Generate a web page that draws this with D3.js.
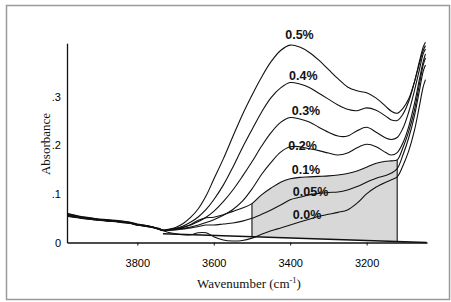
<!DOCTYPE html>
<html>
<head>
<meta charset="utf-8">
<script src="https://cdn.jsdelivr.net/npm/d3@7"></script>
<style>
  body { margin: 0; background: #fff; }
  svg { display: block; }
</style>
</head>
<body>
<div id="chart"></div>
<script>
// wavenumber grid (cm-1) shared by all spectra
const wavenumbers = [3984, 3950, 3915, 3880, 3850, 3820, 3800, 3776, 3755, 3740, 3733,
  3720, 3700, 3680, 3660, 3640, 3620, 3600, 3575, 3550, 3525, 3500, 3475, 3450, 3425,
  3400, 3375, 3350, 3325, 3300, 3275, 3250, 3225, 3200, 3175, 3150, 3135, 3120, 3105,
  3090, 3075, 3062, 3052, 3046];

// absorbance, one array per concentration
const abs05 = [0.060, 0.054, 0.050, 0.047, 0.045, 0.042, 0.038, 0.035, 0.031, 0.027, 0.025,
  0.027, 0.031, 0.039, 0.052, 0.070, 0.096, 0.130, 0.172, 0.218, 0.263, 0.303, 0.340, 0.372, 0.395,
  0.406, 0.402, 0.391, 0.375, 0.356, 0.337, 0.320, 0.312, 0.308, 0.297, 0.280, 0.270, 0.266, 0.276,
  0.295, 0.330, 0.372, 0.402, 0.412];
const abs04 = [0.059, 0.053, 0.049, 0.046, 0.044, 0.041, 0.037, 0.034, 0.031, 0.027, 0.025,
  0.026, 0.029, 0.034, 0.042, 0.053, 0.068, 0.088, 0.118, 0.155, 0.195, 0.232, 0.268, 0.298, 0.318,
  0.329, 0.326, 0.319, 0.307, 0.295, 0.283, 0.274, 0.271, 0.277, 0.272, 0.260, 0.252, 0.251, 0.264,
  0.290, 0.330, 0.368, 0.395, 0.405];
const abs03 = [0.058, 0.053, 0.049, 0.046, 0.044, 0.041, 0.037, 0.035, 0.031, 0.028, 0.025,
  0.026, 0.028, 0.031, 0.036, 0.043, 0.052, 0.064, 0.084, 0.108, 0.136, 0.166, 0.198, 0.226, 0.247,
  0.257, 0.254, 0.248, 0.237, 0.227, 0.219, 0.219, 0.230, 0.237, 0.227, 0.215, 0.212, 0.216, 0.235,
  0.268, 0.312, 0.355, 0.388, 0.398];
const abs02 = [0.057, 0.052, 0.048, 0.045, 0.044, 0.040, 0.036, 0.034, 0.030, 0.027, 0.025,
  0.026, 0.027, 0.029, 0.032, 0.036, 0.041, 0.047, 0.056, 0.068, 0.085, 0.110, 0.140, 0.165, 0.186,
  0.197, 0.197, 0.193, 0.189, 0.184, 0.180, 0.184, 0.195, 0.202, 0.197, 0.185, 0.180, 0.185, 0.205,
  0.238, 0.285, 0.335, 0.372, 0.388];
const abs01 = [0.056, 0.051, 0.048, 0.045, 0.043, 0.040, 0.036, 0.033, 0.030, 0.027, 0.025,
  0.026, 0.028, 0.032, 0.037, 0.046, 0.051, 0.052, 0.057, 0.064, 0.071, 0.080, 0.098, 0.112, 0.124,
  0.131, 0.134, 0.135, 0.136, 0.137, 0.139, 0.142, 0.147, 0.155, 0.163, 0.167, 0.168, 0.170, 0.195,
  0.228, 0.272, 0.325, 0.365, 0.380];
const abs005 = [0.055, 0.051, 0.047, 0.045, 0.043, 0.040, 0.036, 0.034, 0.030, 0.027, 0.025,
  0.025, 0.026, 0.028, 0.030, 0.033, 0.036, 0.036, 0.038, 0.040, 0.044, 0.050, 0.058, 0.067, 0.077,
  0.088, 0.093, 0.098, 0.101, 0.103, 0.104, 0.108, 0.115, 0.124, 0.132, 0.138, 0.143, 0.152, 0.180,
  0.215, 0.260, 0.312, 0.352, 0.365];
const abs00 = [0.054, 0.050, 0.047, 0.044, 0.042, 0.039, 0.036, 0.033, 0.030, 0.026, 0.024,
  0.021, 0.018, 0.016, 0.016, 0.020, 0.020, 0.012, 0.005, 0.003, 0.004, 0.009, 0.017, 0.024, 0.030,
  0.036, 0.042, 0.048, 0.054, 0.058, 0.062, 0.067, 0.081, 0.100, 0.114, 0.124, 0.129, 0.135, 0.158,
  0.188, 0.230, 0.280, 0.320, 0.335];

const seriesLabels = ['0.5%', '0.4%', '0.3%', '0.2%', '0.1%', '0.05%', '0.0%'];
const seriesValues = [abs05, abs04, abs03, abs02, abs01, abs005, abs00];

// straight integration baseline and the shaded band under the 0.1% curve
const baselineWn = [3733, 3043];
const baselineAbs = [0.018, 0.0];
const shadeFrom = 3500;
const shadeTo = 3120;

const xTicks = [3800, 3600, 3400, 3200];
const yTicks = [0, 0.1, 0.2, 0.3];
const yTickLabels = ['0', '.1', '.2', '.3'];

const width = 451;
const height = 302;

const svg = d3.select('#chart').append('svg')
  .attr('width', width)
  .attr('height', height);

// outer frame
svg.append('rect')
  .attr('x', 6.5).attr('y', 5.5)
  .attr('width', 443).attr('height', 294)
  .attr('fill', 'none')
  .attr('stroke', '#9a9a9a')
  .attr('stroke-width', 1.5);

const x = d3.scaleLinear().domain([3984, 3042]).range([67, 427]);
const y = d3.scaleLinear().domain([0, 0.41]).range([242.5, 43.2]);

const baseline = d3.scaleLinear().domain(baselineWn).range(baselineAbs);

const line = d3.line()
  .curve(d3.curveCatmullRom.alpha(0.5))
  .x(d => x(d[0]))
  .y(d => y(d[1]));

// shaded area
const i01 = seriesLabels.indexOf('0.1%');
const shadePts = wavenumbers
  .map((w, i) => [w, seriesValues[i01][i]])
  .filter(d => d[0] <= shadeFrom && d[0] >= shadeTo);

const area = d3.area()
  .curve(d3.curveCatmullRom.alpha(0.5))
  .x(d => x(d[0]))
  .y0(d => y(baseline(d[0])))
  .y1(d => y(d[1]));

svg.append('path')
  .datum(shadePts)
  .attr('fill', '#d8d8d8')
  .attr('stroke', 'none')
  .attr('d', area);

// vertical edges of the shaded band
[shadePts[0], shadePts[shadePts.length - 1]].forEach(d => {
  svg.append('line')
    .attr('x1', x(d[0])).attr('x2', x(d[0]))
    .attr('y1', y(baseline(d[0]))).attr('y2', y(d[1]))
    .attr('stroke', '#111')
    .attr('stroke-width', 1.1);
});

// axes
const xAxis = d3.axisBottom(x)
  .tickValues(xTicks)
  .tickSize(3)
  .tickSizeOuter(0)
  .tickPadding(14)
  .tickFormat(d3.format('d'));

const yAxis = d3.axisLeft(y)
  .tickValues(yTicks)
  .tickSize(0)
  .tickSizeOuter(0)
  .tickPadding(6)
  .tickFormat((d, i) => yTickLabels[i]);

const gx = svg.append('g')
  .attr('transform', 'translate(0,' + y(0) + ')')
  .call(xAxis);

const gy = svg.append('g')
  .attr('transform', 'translate(' + x(3984) + ',0)')
  .call(yAxis);

[gx, gy].forEach(g => {
  g.selectAll('path.domain').attr('stroke', '#111').attr('stroke-width', 1.3);
  g.selectAll('.tick line').attr('stroke', '#111');
  g.selectAll('.tick text')
    .attr('fill', '#000')
    .attr('font-family', 'Liberation Sans, Arial, sans-serif')
    .attr('font-size', '11px');
});

// baseline
svg.append('path')
  .datum(baselineWn.map((w, i) => [w, baselineAbs[i]]))
  .attr('fill', 'none')
  .attr('stroke', '#111')
  .attr('stroke-width', 1.4)
  .attr('d', line);

// spectra
svg.append('g')
  .selectAll('path')
  .data(seriesValues)
  .enter()
  .append('path')
  .attr('fill', 'none')
  .attr('stroke', '#111')
  .attr('stroke-width', 1.1)
  .attr('stroke-linejoin', 'round')
  .attr('d', vals => line(wavenumbers.map((w, i) => [w, vals[i]])));

// curve labels
const labelAt = [[3413, 0.419], [3403, 0.334], [3396, 0.262], [3405, 0.191],
  [3396, 0.141], [3393, 0.095], [3393, 0.048]];

svg.append('g')
  .selectAll('text')
  .data(seriesLabels)
  .enter()
  .append('text')
  .attr('x', (d, i) => x(labelAt[i][0]))
  .attr('y', (d, i) => y(labelAt[i][1]))
  .attr('font-family', 'Liberation Sans, Arial, sans-serif')
  .attr('font-weight', 'bold')
  .attr('font-size', '12.5px')
  .attr('fill', '#111')
  .text(d => d);

// axis titles
svg.append('text')
  .attr('transform', 'translate(50,144) rotate(-90)')
  .attr('text-anchor', 'middle')
  .attr('font-family', 'Liberation Serif, Times New Roman, serif')
  .attr('font-size', '13px')
  .attr('fill', '#111')
  .text('Absorbance');

const xt = svg.append('text')
  .attr('x', 249)
  .attr('y', 287.5)
  .attr('text-anchor', 'middle')
  .attr('font-family', 'Liberation Serif, Times New Roman, serif')
  .attr('font-size', '13px')
  .attr('fill', '#111');
xt.append('tspan').text('Wavenumber (cm');
xt.append('tspan').attr('dy', -5).attr('font-size', '8.5px').text('-1');
xt.append('tspan').attr('dy', 5).text(')');
</script>
</body>
</html>
